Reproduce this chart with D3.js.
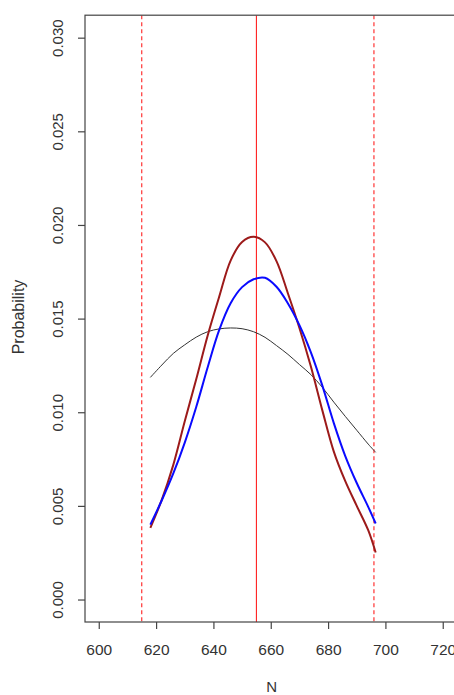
<!DOCTYPE html>
<html><head><meta charset="utf-8">
<script src="https://cdn.jsdelivr.net/npm/d3@7"></script>
<style>
html,body{margin:0;padding:0;background:#fff;overflow:hidden}
text{font-family:"Liberation Sans",Arial,sans-serif;fill:#333}
</style></head>
<body><svg id="c" width="454" height="695"></svg>
<script>
// Data
const N = [618, 622, 626, 630, 634, 638, 642, 646, 650, 654, 658, 662, 666, 670, 674, 678, 682, 686, 690, 694, 696.6];
const probDarkRed = [0.00383, 0.00533, 0.00719, 0.00952, 0.01176, 0.01410, 0.01616, 0.01810, 0.01909, 0.01937, 0.01907, 0.01807, 0.01634, 0.01450, 0.01244, 0.01010, 0.00790, 0.00632, 0.00500, 0.00370, 0.00251];
const probBlue    = [0.00400, 0.00530, 0.00673, 0.00838, 0.01028, 0.01240, 0.01438, 0.01582, 0.01668, 0.01710, 0.01718, 0.01670, 0.01581, 0.01465, 0.01320, 0.01142, 0.00942, 0.00766, 0.00622, 0.00495, 0.00406];
const probBlack   = [0.01186, 0.01252, 0.01314, 0.01360, 0.01401, 0.01430, 0.01445, 0.01450, 0.01446, 0.01430, 0.01400, 0.01356, 0.01309, 0.01255, 0.01201, 0.01133, 0.01054, 0.00978, 0.00904, 0.00830, 0.00786];
const vlineSolid = [655];
const vlineDashed = [615, 696];
const xTicks = [600, 620, 640, 660, 680, 700, 720];
const yTicks = [0.000, 0.005, 0.010, 0.015, 0.020, 0.025, 0.030];
const xLabel = "N", yLabel = "Probability";

const svg = d3.select("#c");
const L = 85, R = 456.5, T = 15.2, B = 622;
const x = d3.scaleLinear().domain([595.2, 724.8]).range([L, R]);
const y = d3.scaleLinear().domain([-0.0012, 0.0312]).range([B, T]);

svg.append("clipPath").attr("id","pc").append("rect")
  .attr("x", L).attr("y", T).attr("width", R-L).attr("height", B-T);
const g = svg.append("g").attr("clip-path","url(#pc)");

// vertical lines
g.selectAll(".vd").data(vlineDashed).join("line")
  .attr("x1", d=>x(d)).attr("x2", d=>x(d)).attr("y1", T).attr("y2", B)
  .attr("stroke","#ff2020").attr("stroke-width",1.1).attr("stroke-dasharray","4,3");
g.selectAll(".vs").data(vlineSolid).join("line")
  .attr("x1", d=>x(d)).attr("x2", d=>x(d)).attr("y1", T).attr("y2", B)
  .attr("stroke","#ff2020").attr("stroke-width",1.1);

const line = vals => d3.line().curve(d3.curveCatmullRom.alpha(0.5)).x((d,i)=>x(N[i])).y(d=>y(d))(vals);
g.append("path").attr("d", line(probBlack)).attr("fill","none").attr("stroke","#333").attr("stroke-width",1);
g.append("path").attr("d", line(probDarkRed)).attr("fill","none").attr("stroke","#9c1a1a").attr("stroke-width",2);
g.append("path").attr("d", line(probBlue)).attr("fill","none").attr("stroke","#0a0aff").attr("stroke-width",2);

// box
svg.append("rect").attr("x", L).attr("y", T).attr("width", R-L).attr("height", B-T)
  .attr("fill","none").attr("stroke","#444").attr("stroke-width",1.2);

// axes
const xa = svg.append("g").attr("transform",`translate(0,${B})`)
  .call(d3.axisBottom(x).tickValues(xTicks).tickSize(7).tickPadding(15).tickFormat(d3.format("d")));
xa.select(".domain").remove();
xa.selectAll("line").attr("stroke","#444").attr("stroke-width",1.2);
xa.selectAll("text").style("font-size","15.5px").attr("fill","#333");

const ya = svg.append("g").attr("transform",`translate(${L},0)`)
  .call(d3.axisLeft(y).tickValues(yTicks).tickSize(7).tickFormat(d3.format(".3f")));
ya.select(".domain").remove();
ya.selectAll("line").attr("stroke","#444").attr("stroke-width",1.2);
ya.selectAll("text")
  .attr("x", null).attr("dy", null)
  .attr("transform", "translate(-27.5,0) rotate(-90)")
  .attr("text-anchor","middle").attr("dy","0.35em")
  .style("font-size","15px").attr("fill","#333");

svg.append("text").attr("x", (L+R)/2 + 1).attr("y", 692)
  .attr("text-anchor","middle").style("font-size","15px").text(xLabel);
svg.append("text").attr("transform",`translate(23.5,317) rotate(-90)`)
  .attr("text-anchor","middle").style("font-size","16px").text(yLabel);
</script></body></html>
